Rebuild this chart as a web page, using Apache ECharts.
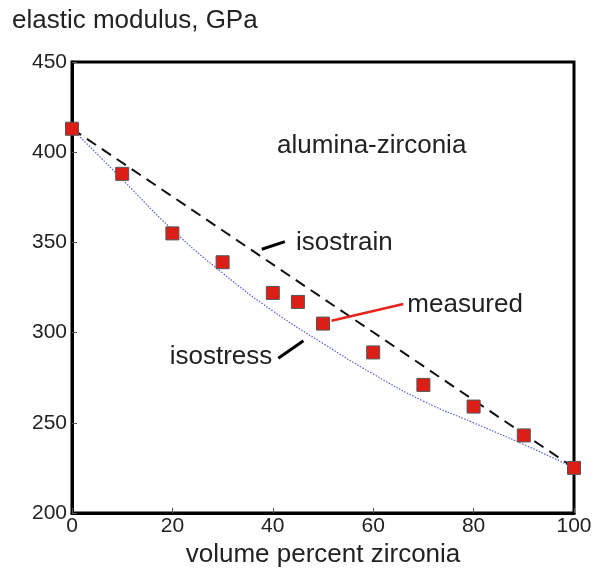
<!DOCTYPE html>
<html>
<head>
<meta charset="utf-8">
<script src="https://cdn.jsdelivr.net/npm/echarts@6/dist/echarts.min.js"></script>
<style>
  html, body { margin: 0; padding: 0; background: #fff; }
  #chart { width: 599px; height: 571px; }
</style>
</head>
<body>
<div id="chart"></div>
<script>
// volume percent zirconia vs elastic modulus (GPa)
var measuredX = [0, 10, 20, 30, 40, 45, 50, 60, 70, 80, 90, 100];
var measuredY = [413, 388, 355, 339, 322, 317, 305, 289, 271, 259, 243, 225];

var isostrainX = [0, 100];
var isostrainY = [413, 225];

var isostressX = [0, 10, 20, 30, 40, 50, 60, 70, 80, 90, 100];
var isostressY = [413, 385, 357, 333, 312, 294, 277, 262, 250, 238, 225];

var xTicks = [0, 20, 40, 60, 80, 100];
var yTicks = [200, 250, 300, 350, 400, 450];

// annotation anchors in data units
var labels = [
    { text: 'alumina-zirconia', at: [59.7, 403.5], align: 'center' },
    { text: 'isostrain', at: [44.6, 349.5], align: 'left' },
    { text: 'measured', at: [66.8, 315.5], align: 'left' },
    { text: 'isostress', at: [39.9, 286.5], align: 'right' }
];
var leaders = [
    { from: [37.8, 346.2], to: [42.4, 350.4], color: '#000', width: 3 },
    { from: [51.7, 306.6], to: [66.0, 315.9], color: '#e8241c', width: 2.5 },
    { from: [41.1, 285.8], to: [46.1, 295.5], color: '#000', width: 3 }
];

function pairs(xs, ys) {
    return xs.map(function (x, i) { return [x, ys[i]]; });
}

var font = 'Liberation Sans, Arial, sans-serif';
var myChart = echarts.init(document.getElementById('chart'));

var option = {
    animation: false,
    backgroundColor: '#fff',
    grid: {
        left: 72, right: 25, top: 62, bottom: 58,
        containLabel: false, outerBoundsMode: 'none',
        show: true, borderColor: '#000', borderWidth: 3
    },
    title: {
        text: 'elastic modulus, GPa',
        left: 7, top: 3,
        textStyle: { fontFamily: font, fontSize: 26, fontWeight: 'normal', color: '#222' }
    },
    xAxis: {
        type: 'value', min: 0, max: 100, interval: 20,
        name: 'volume percent zirconia', nameLocation: 'middle', nameGap: 26,
        nameTextStyle: { fontFamily: font, fontSize: 26, color: '#222' },
        axisLine: { lineStyle: { color: '#000', width: 3 } },
        axisTick: { inside: true, length: 5, lineStyle: { color: '#555', width: 1 } },
        axisLabel: {
            fontFamily: font, fontSize: 21, color: '#222', margin: 3,
            formatter: function (v) { return xTicks.indexOf(v) >= 0 ? String(v) : ''; }
        },
        splitLine: { show: false }
    },
    yAxis: {
        type: 'value', min: 200, max: 450, interval: 50,
        axisLine: { show: true, lineStyle: { color: '#000', width: 3 } },
        axisTick: { show: true, inside: true, length: 5, lineStyle: { color: '#555', width: 1 } },
        axisLabel: {
            fontFamily: font, fontSize: 21, color: '#222', margin: 5,
            formatter: function (v) { return yTicks.indexOf(v) >= 0 ? String(v) : ''; }
        },
        splitLine: { show: false }
    },
    series: [
        {
            name: 'isostress', type: 'line', smooth: true, symbol: 'none',
            data: pairs(isostressX, isostressY),
            lineStyle: { color: '#5a5ad8', width: 1.2, type: [1.5, 1.5] },
            z: 2
        },
        {
            name: 'isostrain', type: 'line', symbol: 'none',
            data: pairs(isostrainX, isostrainY),
            lineStyle: { color: '#111', width: 2, type: [11, 7] },
            z: 3
        },
        {
            name: 'measured', type: 'scatter', symbol: 'rect', symbolSize: 13,
            data: pairs(measuredX, measuredY),
            itemStyle: { color: '#dc1e16', borderColor: '#555', borderWidth: 1, opacity: 1 },
            emphasis: { disabled: true },
            z: 5
        }
    ].concat(leaders.map(function (l) {
        return {
            type: 'line', symbol: 'none', silent: true,
            data: [l.from, l.to],
            lineStyle: { color: l.color, width: l.width },
            z: 4
        };
    }))
};

myChart.setOption(option);

// text labels placed through the chart's own coordinate system
myChart.setOption({
    graphic: labels.map(function (a) {
        var p = myChart.convertToPixel({ gridIndex: 0 }, a.at);
        return {
            type: 'text', x: p[0], y: p[1], z: 10,
            style: {
                text: a.text, fill: '#222', font: '26px ' + font,
                align: a.align, verticalAlign: 'middle'
            }
        };
    })
});
</script>
</body>
</html>
